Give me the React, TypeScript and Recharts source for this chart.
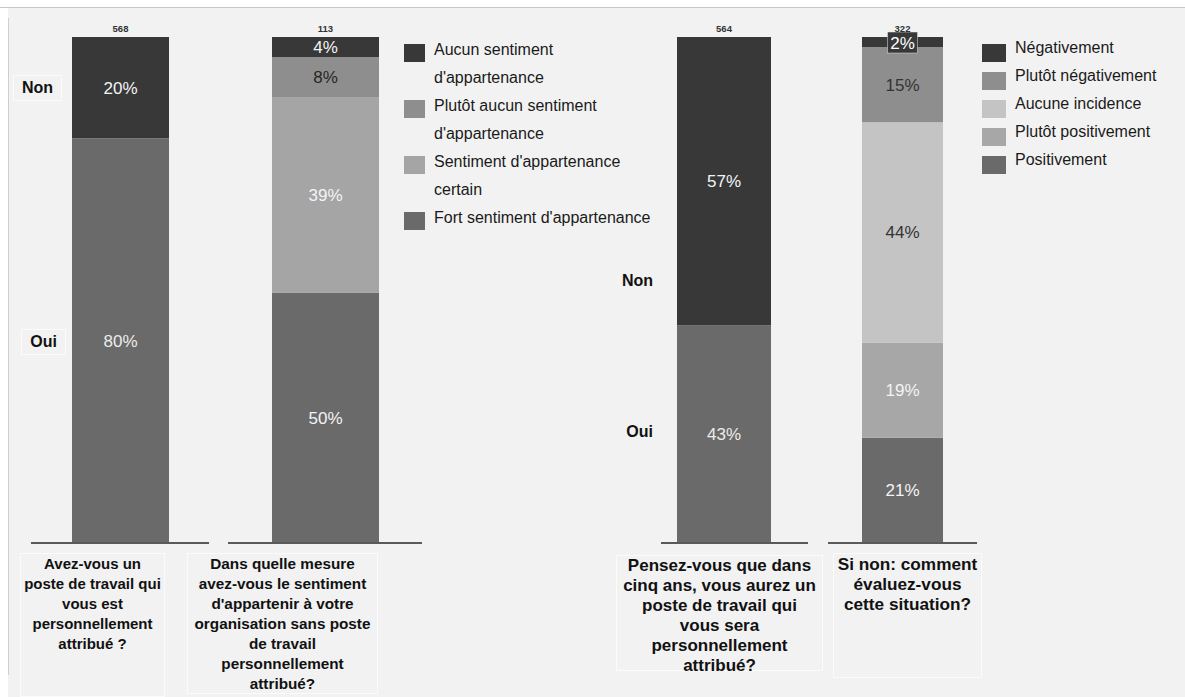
import React from 'react';
import { BarChart, Bar, XAxis, YAxis, LabelList, ReferenceLine } from 'recharts';

// ---------- DATA ----------
const q1Categories = ['Oui', 'Non'];
const q1Values = [80, 20];
const q1Total = 568;
const q1Question = ['Avez-vous un', 'poste de travail qui', 'vous est', 'personnellement', 'attribué ?'];

const q2Series = [
  "Fort sentiment d'appartenance",
  "Sentiment d'appartenance certain",
  "Plutôt aucun sentiment d'appartenance",
  "Aucun sentiment d'appartenance",
];
const q2Values = [50, 39, 8, 4];
const q2Total = 113;
const q2Question = ['Dans quelle mesure', 'avez-vous le sentiment', "d'appartenir à votre", 'organisation sans poste', 'de travail', 'personnellement', 'attribué?'];

const q3Categories = ['Oui', 'Non'];
const q3Values = [43, 57];
const q3Total = 564;
const q3Question = ['Pensez-vous que dans', 'cinq ans, vous aurez un', 'poste de travail qui', 'vous sera', 'personnellement', 'attribué?'];

const q4Series = ['Positivement', 'Plutôt positivement', 'Aucune incidence', 'Plutôt négativement', 'Négativement'];
const q4Values = [21, 19, 44, 15, 2];
const q4Total = 322;
const q4Question = ['Si non: comment', 'évaluez-vous', 'cette situation?'];

// ---------- STYLE ----------
const FONT = '"Liberation Sans", Arial, Helvetica, sans-serif';
const q1Colors = ['#6a6a6a', '#383838'];
const q1LabelColors = ['#ececec', '#f4f4f4'];
const q2Colors = ['#6a6a6a', '#a5a5a5', '#8e8e8e', '#383838'];
const q2LabelColors = ['#f4f4f4', '#f4f4f4', '#262626', '#f4f4f4'];
const q3Colors = ['#6a6a6a', '#383838'];
const q3LabelColors = ['#ececec', '#f4f4f4'];
const q4Colors = ['#6a6a6a', '#a7a7a7', '#c4c4c4', '#8e8e8e', '#383838'];
const q4LabelColors = ['#f4f4f4', '#f4f4f4', '#333333', '#333333', '#ffffff'];

const BoxedLabel = (props: any) => {
  const x = props.x ?? props.viewBox?.x ?? 0;
  const y = props.y ?? props.viewBox?.y ?? 0;
  const w = props.width ?? props.viewBox?.width ?? 0;
  const h = props.height ?? props.viewBox?.height ?? 0;
  const cx = x + w / 2;
  const cy = y + h / 2;
  return (
    <g>
      <rect x={cx - 15} y={cy - 10} width={30} height={21} fill="#383838" stroke="#e8e8e8" strokeWidth={0.5} />
      <text x={cx} y={cy + 1} textAnchor="middle" dominantBaseline="central" fill="#ffffff" fontSize={17} fontFamily={FONT}>
        {props.value}%
      </text>
    </g>
  );
};

type StackProps = {
  left: number;
  width: number;
  series: string[];
  values: number[];
  total: number;
  colors: string[];
  labelColors: string[];
  barSize: number;
  padRight?: number;
  boxedIndex?: number;
};

function StackChart({ left, width, series, values, total, colors, labelColors, barSize, padRight = 0, boxedIndex = -1 }: StackProps) {
  const row: any = { name: 'q', total };
  series.forEach((_, i) => {
    row['s' + i] = values[i];
  });
  return (
    <div style={{ position: 'absolute', left, top: 0 }}>
      <BarChart
        width={width}
        height={560}
        data={[row]}
        stackOffset="expand"
        margin={{ top: 37, right: 0, bottom: 17, left: 0 }}
        style={{ fontFamily: FONT }}
      >
        <XAxis
          dataKey="name"
          tick={false}
          tickLine={false}
          axisLine={false}
          height={0}
          padding={{ left: 0, right: padRight }}
        />
        <YAxis hide domain={[0, 1]} />
        {series.map((s, i) => (
          <Bar key={s} dataKey={'s' + i} name={s} stackId="a" fill={colors[i]} barSize={barSize} isAnimationActive={false}>
            {i === boxedIndex ? (
              <LabelList dataKey={'s' + i} position="center" content={BoxedLabel} />
            ) : (
              <LabelList
                dataKey={'s' + i}
                position="center"
                fill={labelColors[i]}
                fontSize={17}
                formatter={(v: any) => `${v}%`}
              />
            )}
            {i === series.length - 1 && (
              <LabelList dataKey="total" position="top" offset={5} fill="#333" fontSize={9.5} fontWeight="bold" />
            )}
          </Bar>
        ))}
        <ReferenceLine y={0} stroke="#5a5a5a" strokeWidth={2} ifOverflow="extendDomain" />
      </BarChart>
    </div>
  );
}

function Question({ lines, left, width, top, height, fontSize }: { lines: string[]; left: number; width: number; top: number; height: number; fontSize: number }) {
  return (
    <div
      style={{
        position: 'absolute',
        left,
        top,
        width,
        height,
        boxSizing: 'border-box',
        border: '1px solid #fbfbfb',
        fontFamily: FONT,
        fontWeight: 'bold',
        fontSize,
        lineHeight: '20px',
        textAlign: 'center',
        color: '#111',
      }}
    >
      {lines.map((l) => (
        <div key={l} style={{ whiteSpace: 'nowrap' }}>{l}</div>
      ))}
    </div>
  );
}

function SideLabel({ text, right, cy, boxed }: { text: string; right: number; cy: number; boxed?: boolean }) {
  return (
    <div
      style={{
        position: 'absolute',
        right: 1185 - right,
        top: cy - 12,
        height: 24,
        lineHeight: '24px',
        padding: boxed ? '0 8px' : 0,
        border: boxed ? '1px solid #fbfbfb' : 'none',
        fontFamily: FONT,
        fontWeight: 'bold',
        fontSize: 16,
        color: '#111',
      }}
    >
      {text}
    </div>
  );
}

function Legend({ items, colors, left, top, textWidth, sqW, sqOff }: { items: string[]; colors: string[]; left: number; top: number; textWidth: number; sqW: number; sqOff: number }) {
  return (
    <div style={{ position: 'absolute', left, top, fontFamily: FONT, fontSize: 16, lineHeight: '28px', color: '#1a1a1a' }}>
      {items.map((it, i) => (
        <div key={it} style={{ display: 'flex', alignItems: 'flex-start' }}>
          <div style={{ width: sqW, height: 18, marginTop: sqOff, background: colors[i], flex: 'none' }} />
          <div style={{ width: textWidth, marginLeft: 9 }}>{it}</div>
        </div>
      ))}
    </div>
  );
}

export default function App() {
  return (
    <div style={{ position: 'absolute', left: 0, top: 0, width: 1185, height: 697, background: '#f2f2f2', overflow: 'hidden' }}>
      <div style={{ position: 'absolute', left: 0, top: 0, width: 1185, height: 7, background: '#ffffff', borderBottom: '1px solid #c6c6c6' }} />
      <div style={{ position: 'absolute', left: 0, top: 8, width: 8, height: 689, background: '#ffffff' }} />
      <div style={{ position: 'absolute', left: 8, top: 18, width: 1, height: 657, background: '#cfcfcf' }} />

      <StackChart left={31} width={178} series={q1Categories} values={q1Values} total={q1Total} colors={q1Colors} labelColors={q1LabelColors} barSize={97} />
      <StackChart left={228} width={194} series={q2Series} values={q2Values} total={q2Total} colors={q2Colors} labelColors={q2LabelColors} barSize={107} />
      <StackChart left={661} width={147} series={q3Categories} values={q3Values} total={q3Total} colors={q3Colors} labelColors={q3LabelColors} barSize={94} padRight={21} />
      <StackChart left={828} width={149} series={q4Series} values={q4Values} total={q4Total} colors={q4Colors} labelColors={q4LabelColors} barSize={81} boxedIndex={4} />

      <SideLabel text={q1Categories[1]} right={62} cy={87} boxed />
      <SideLabel text={q1Categories[0]} right={66} cy={341} boxed />
      <SideLabel text={q3Categories[1]} right={653} cy={281} />
      <SideLabel text={q3Categories[0]} right={653} cy={432} />

      <Legend items={[...q2Series].reverse()} colors={[...q2Colors].reverse()} left={404} top={36} textWidth={226} sqW={21} sqOff={8} />
      <Legend items={[...q4Series].reverse()} colors={[...q4Colors].reverse()} left={982} top={34} textWidth={190} sqW={24} sqOff={10} />

      <Question lines={q1Question} left={20} width={145} top={553} height={144} fontSize={15} />
      <Question lines={q2Question} left={187} width={191} top={553} height={141} fontSize={15.3} />
      <Question lines={q3Question} left={616} width={207} top={555} height={116} fontSize={17} />
      <Question lines={q4Question} left={833} width={149} top={553} height={125} fontSize={17.2} />
    </div>
  );
}
